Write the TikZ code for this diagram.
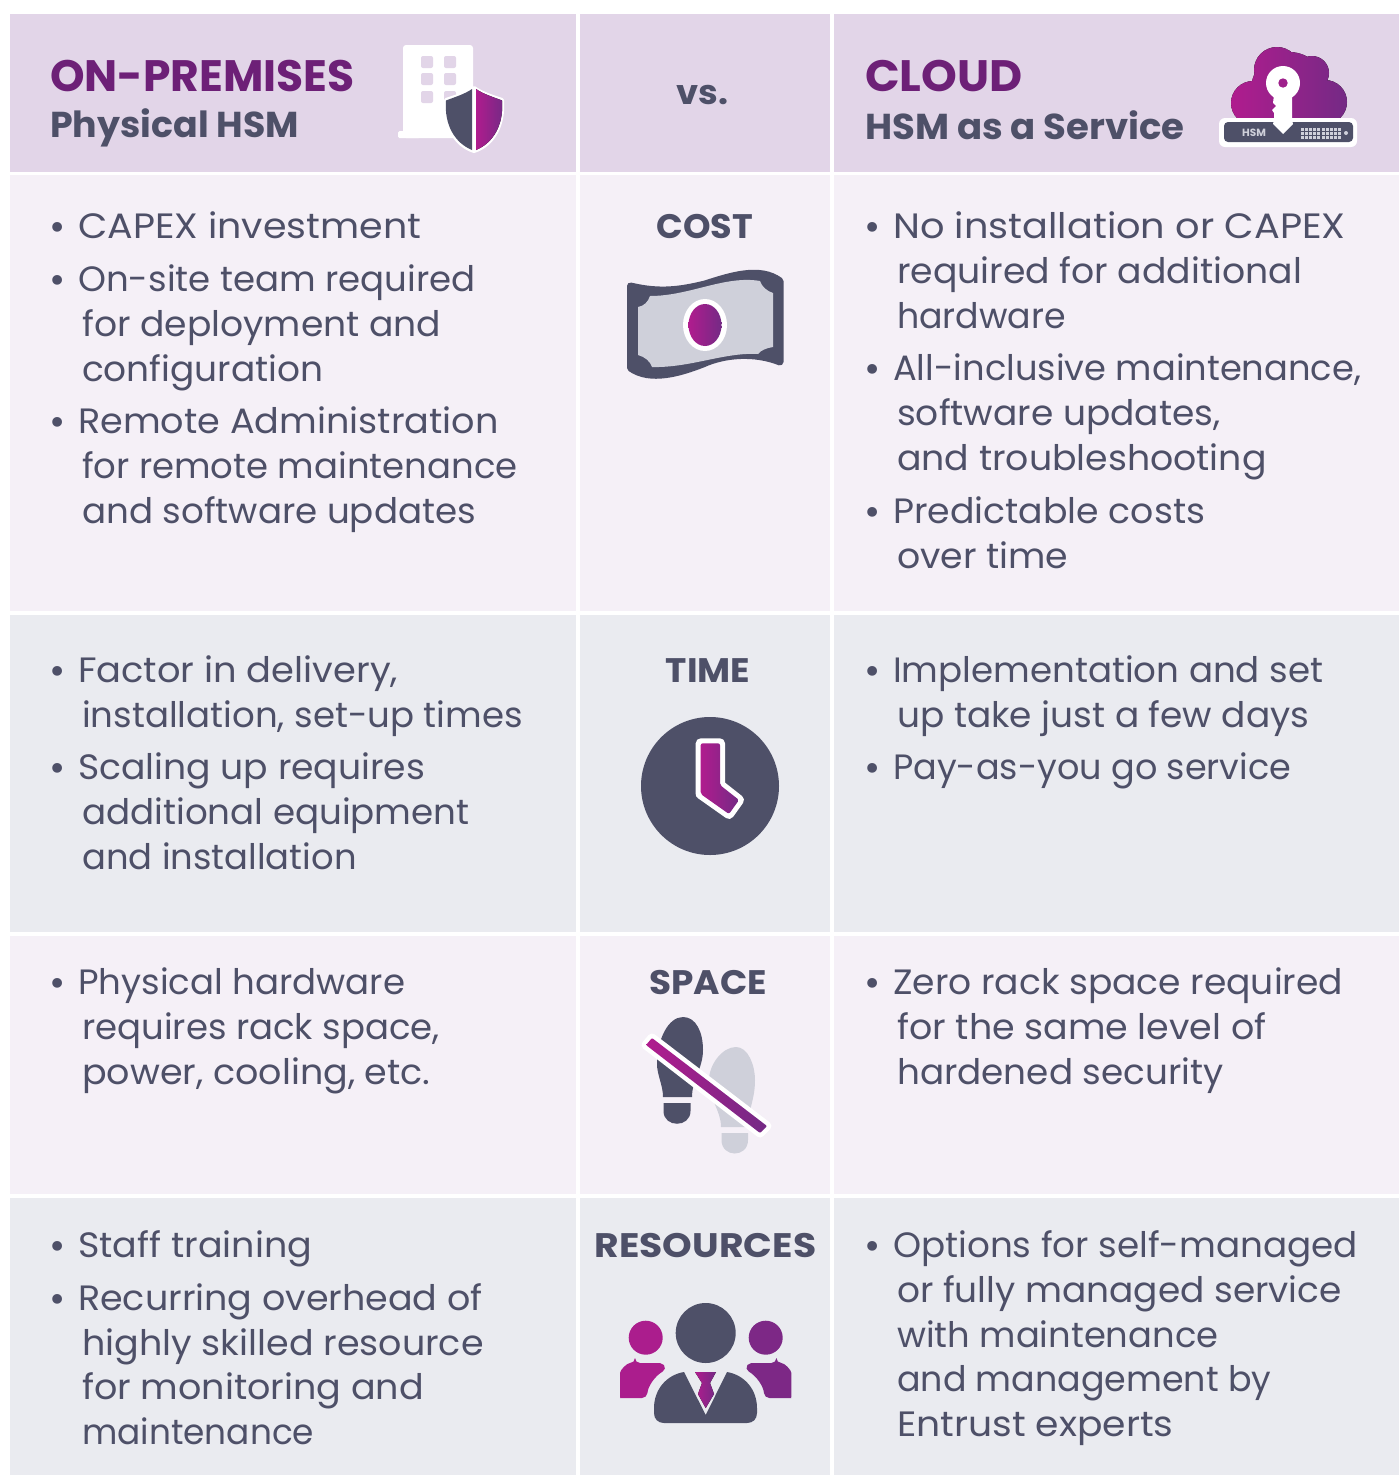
\documentclass[tikz,border=0pt]{standalone}
\usepackage{graphicx}
\usepackage{fontspec}
\setmainfont{Poppins}
\definecolor{hdr}{HTML}{E2D5E8}
\definecolor{lil}{HTML}{F5F0F7}
\definecolor{gry}{HTML}{EAEBF0}
\definecolor{ink}{HTML}{4E5068}
\definecolor{pale}{HTML}{CFD0DA}
\definecolor{magA}{HTML}{B01C8E}
\definecolor{magB}{HTML}{742A85}
\definecolor{plum}{HTML}{6D2077}
\newcommand\bu{\llap{\raisebox{-2.6pt}{\scalebox{1.12}{•}}\hspace{12.6pt}}}
\newcommand\sx[2]{\scalebox{#1}[1]{#2}}
\tikzset{
  x=1pt,y=-1pt,
  cell/.style={fill=#1,draw=none},
  txt/.style={anchor=base west,inner sep=0pt,yshift=1pt,text=ink,font=\fontsize{35.2}{40}\selectfont},
  lab/.style={anchor=base,inner sep=0pt,yshift=1pt,text=ink,font=\fontsize{34}{38}\bfseries\selectfont},
  big/.style={anchor=base west,inner sep=0pt,yshift=1pt,text=plum,font=\fontsize{44}{48}\bfseries\selectfont},
  sub/.style={anchor=base west,inner sep=0pt,text=ink,font=\fontsize{36}{40}\bfseries\selectfont},
  grad/.style={left color=magA,right color=magB,draw=none},
}
\begin{document}
\begin{tikzpicture}
\useasboundingbox (0,0) rectangle (1399,1476);
% grid
\foreach \a/\b/\c in {10/576/hdr,580/830/hdr,834/1399/hdr}{\fill[cell=\c] (\a,14) rectangle (\b,172);}
\foreach \a/\b in {10/576,580/830,834/1399}{
 \fill[cell=lil] (\a,175) rectangle (\b,611);
 \fill[cell=gry] (\a,615) rectangle (\b,932);
 \fill[cell=lil] (\a,936) rectangle (\b,1194);
 \fill[cell=gry] (\a,1198) rectangle (\b,1475);
}
% header
\node[big] (h1) at (50,92) {ON-PREMISES};
\node[sub] (h2) at (50,137) {\sx{1.01}{Physical HSM}};
\node[lab] (hv) at (702.5,105) {\sx{1.04}{vs.}};
\node[big] (h3) at (865,92) {\sx{1.035}{CLOUD}};
\node[sub] (h4) at (865,139) {\sx{1.03}{HSM as a Service}};
% building icon
\fill[white,rounded corners=3pt] (403,45) rectangle (473,138);
\fill[white,rounded corners=1.5pt] (398,131) rectangle (420,138);
\foreach \wx in {421,444}{\foreach \wy in {56,73,91}{\fill[hdr,rounded corners=2pt] (\wx,\wy) rectangle +(12,12);}}
\path[fill=white,draw=white,line width=4pt,line join=round] (474,88) .. controls (465,94) and (455,97) .. (446,100) .. controls (444,125) and (455,145) .. (474,151) .. controls (493,145) and (504,125) .. (502,100) .. controls (493,97) and (483,94) .. (474,88) -- cycle;
\fill[ink] (472,89) .. controls (465,94) and (455,97) .. (446,100.5) .. controls (444,125) and (455,143) .. (472,150) -- cycle;
\fill[grad] (476,89) .. controls (483,94) and (493,97) .. (502,100.5) .. controls (504,125) and (493,143) .. (476,150) -- cycle;
% cloud icon
\fill[grad] (1253,103) circle (22) (1277,70) circle (23) (1312,73) circle (17) (1325,102) circle (22) (1289,90) circle (38);
\fill[white,rounded corners=6pt] (1219,118) rectangle (1357,147);
\fill[ink,rounded corners=4pt] (1224,122) rectangle (1353,142);
\node[anchor=center,inner sep=0pt,text=pale,font=\fontsize{10.5}{12}\bfseries\selectfont] (hsm) at (1254,132.5) {HSM};
\foreach \gy in {127.5,131.5,135.5}{\foreach \gx in {1301,1305,1309,1313,1317,1322,1326,1330,1334,1338}{\fill[pale] (\gx,\gy) rectangle +(3,3);}}
\fill[pale] (1346,133) circle (2);
\fill[white] (1283,83) circle (17);
\fill[white] (1274,95) -- (1292,95) -- (1292,120) -- (1293,124) -- (1283,134) -- (1273,124) -- (1274,120) -- (1274,113) -- (1272,110) -- (1276,106) -- (1273,103) -- cycle;
\fill[color=magA!70!magB] (1283,83) circle (4.7);
% money icon
\fill[ink,draw=ink,line width=7pt,line join=round] (630.5,286) .. controls (660,293) and (680,290) .. (705,284) .. controls (730,276) and (760,266) .. (780,281) -- (780,362) .. controls (755,352) and (725,354) .. (703,364) .. controls (680,373) and (650,382) .. (630.5,368) -- cycle;
\fill[pale] (650,296) .. controls (690,296) and (725,275) .. (760,281) .. controls (762,287) and (767,291) .. (773,293) -- (773,347) .. controls (767,348) and (761,350) .. (758,354) .. controls (725,352) and (690,368) .. (652,367) .. controls (650,361) and (645,357) .. (638,355) -- (638,307) .. controls (644,306) and (648,302) .. (650,296) -- cycle;
\fill[white] (705,325) ellipse [x radius=22,y radius=26];
\path[grad] (705,325) ellipse [x radius=16.5,y radius=21];
% clock icon
\fill[ink] (710,786) circle (69);
\draw[white,fill=white,line width=10pt,line join=round] (700.7,743.3) -- (720,743.3) -- (720,785) -- (739,800) -- (729,814) -- (700.7,794) -- cycle;
\path[grad,rounded corners=2pt] (700.7,743.3) -- (720,743.3) -- (720,785) -- (739,800) -- (729,814) -- (700.7,794) -- cycle;
% footprints icon
\fill[ink] (683,1017) .. controls (696,1017) and (703,1032) .. (703,1050) .. controls (703,1068) and (692,1080) .. (692,1097) -- (663,1097) .. controls (663,1085) and (657,1075) .. (657,1064) .. controls (657,1040) and (668,1017) .. (683,1017) -- cycle;
\fill[ink] (663.5,1103) -- (690.5,1103) -- (690.5,1111) .. controls (690.5,1128) and (663.5,1128) .. (663.5,1111) -- cycle;
\fill[pale] (736,1047) .. controls (748,1047) and (755,1065) .. (755,1080) .. controls (755,1100) and (748,1110) .. (748,1127) -- (721,1127) .. controls (721,1110) and (709,1100) .. (709,1080) .. controls (709,1065) and (722,1047) .. (736,1047) -- cycle;
\fill[pale] (721.5,1133) -- (748,1133) -- (748,1140) .. controls (748,1158) and (721.5,1158) .. (721.5,1140) -- cycle;
\draw[white,fill=white,line width=9pt,line join=round] (652,1038) -- (646,1045) -- (760,1133) -- (767,1126) -- cycle;
\path[grad,rounded corners=1pt] (652,1038) -- (646,1045) -- (760,1133) -- (767,1126) -- cycle;
% people icon
\fill[color=magA!92!magB] (645.7,1337.7) circle (17);
\fill[color=magB!85!magA] (765.7,1337.7) circle (17);
\fill[color=magA!92!magB,rounded corners=5pt] (635,1363) -- (655,1363) .. controls (660,1363) and (664,1365) .. (667,1369) .. controls (655,1376) and (648,1386) .. (647,1398) -- (625,1398) .. controls (622,1398) and (620,1396) .. (620,1392) -- (620,1378) .. controls (620,1370) and (627,1363) .. (635,1363) -- cycle;
\fill[color=magB!85!magA,rounded corners=5pt] (776.4,1363) -- (756.4,1363) .. controls (751.4,1363) and (747.4,1365) .. (744.4,1369) .. controls (756.4,1376) and (763.4,1386) .. (764.4,1398) -- (786.4,1398) .. controls (789.4,1398) and (791.4,1396) .. (791.4,1392) -- (791.4,1378) .. controls (791.4,1370) and (784.4,1363) .. (776.4,1363) -- cycle;
\fill[ink] (705.7,1333) circle (30);
\fill[ink] (684,1372) -- (705.7,1415) -- (727,1372) .. controls (745,1375) and (757,1390) .. (757,1408) -- (757,1413) .. controls (757,1419) and (753,1423) .. (747,1423) -- (664,1423) .. controls (658,1423) and (654,1419) .. (654,1413) -- (654,1408) .. controls (654,1390) and (666,1375) .. (684,1372) -- cycle;
\fill[grad] (695,1372) -- (716,1372) -- (710,1383) -- (714,1394) -- (705.7,1408) -- (698,1394) -- (702,1383) -- cycle;
% row labels
\node[lab] (l1) at (705,239) {\sx{1.03}{COST}};
\node[lab] (l2) at (708,683) {\sx{1.06}{TIME}};
\node[lab] (l3) at (708,995) {\sx{1.055}{SPACE}};
\node[lab] (l4) at (705.5,1258) {\sx{1.11}{RESOURCES}};
% row 1 left
\node[txt] (a1) at (78,239) {\bu\sx{1.079}{CAPEX investment}};
\node[txt] (a2) at (78,292) {\bu\sx{1.01}{On-site team required}};
\node[txt] (a3) at (82,337) {\sx{1.026}{for deployment and}};
\node[txt] (a4) at (82,382) {\sx{1.02}{configuration}};
\node[txt] (a5) at (78,434) {\bu\sx{1.04}{Remote Administration}};
\node[txt] (a6) at (82,479) {\sx{1.007}{for remote maintenance}};
\node[txt] (a7) at (82,524) {\sx{1.013}{and software updates}};
% row 1 right
\node[txt] (b1) at (893,239) {\bu\sx{1.087}{No installation or CAPEX}};
\node[txt] (b2) at (897,284) {\sx{1.028}{required for additional}};
\node[txt] (b3) at (897,329) {\sx{0.988}{hardware}};
\node[txt] (b4) at (893,381) {\bu\sx{1.002}{All-inclusive maintenance,}};
\node[txt] (b5) at (897,426) {\sx{1.022}{software updates,}};
\node[txt] (b6) at (897,471) {\sx{1.03}{and troubleshooting}};
\node[txt] (b7) at (893,524) {\bu\sx{1.03}{Predictable costs}};
\node[txt] (b8) at (897,569) {\sx{1.03}{over time}};
% row 2
\node[txt] (c1) at (78,683) {\bu\sx{1.046}{Factor in delivery,}};
\node[txt] (c2) at (82,728) {\sx{1.01}{installation, set-up times}};
\node[txt] (c3) at (78,780) {\bu\sx{1.027}{Scaling up requires}};
\node[txt] (c4) at (82,825) {\sx{1.013}{additional equipment}};
\node[txt] (c5) at (82,870) {\sx{1.004}{and installation}};
\node[txt] (d1) at (893,683) {\bu\sx{1.012}{Implementation and set}};
\node[txt] (d2) at (897,728) {\sx{1.02}{up take just a few days}};
\node[txt] (d3) at (893,780) {\bu\sx{0.995}{Pay-as-you go service}};
% row 3
\node[txt] (e1) at (78,995) {\bu\sx{1.01}{Physical hardware}};
\node[txt] (e2) at (82,1040) {\sx{1.008}{requires rack space,}};
\node[txt] (e3) at (82,1085) {\sx{1.036}{power, cooling, etc.}};
\node[txt] (f1) at (893,995) {\bu\sx{1.025}{Zero rack space required}};
\node[txt] (f2) at (897,1040) {\sx{1.034}{for the same level of}};
\node[txt] (f3) at (897,1085) {\sx{1.016}{hardened security}};
% row 4
\node[txt] (g1) at (78,1258) {\bu\sx{1.036}{Staff training}};
\node[txt] (g2) at (78,1311) {\bu\sx{1.036}{Recurring overhead of}};
\node[txt] (g3) at (82,1356) {\sx{1.036}{highly skilled resource}};
\node[txt] (g4) at (82,1400) {\sx{1.037}{for monitoring and}};
\node[txt] (g5) at (82,1445) {\sx{0.975}{maintenance}};
\node[txt] (k1) at (893,1258) {\bu\sx{1.015}{Options for self-managed}};
\node[txt] (k2) at (897,1303) {\sx{1.02}{or fully managed service}};
\node[txt] (k3) at (897,1348) {\sx{1.003}{with maintenance}};
\node[txt] (k4) at (897,1392) {\sx{0.99}{and management by}};
\node[txt] (k5) at (897,1437) {\sx{1.07}{Entrust experts}};
\end{tikzpicture}
\end{document}
